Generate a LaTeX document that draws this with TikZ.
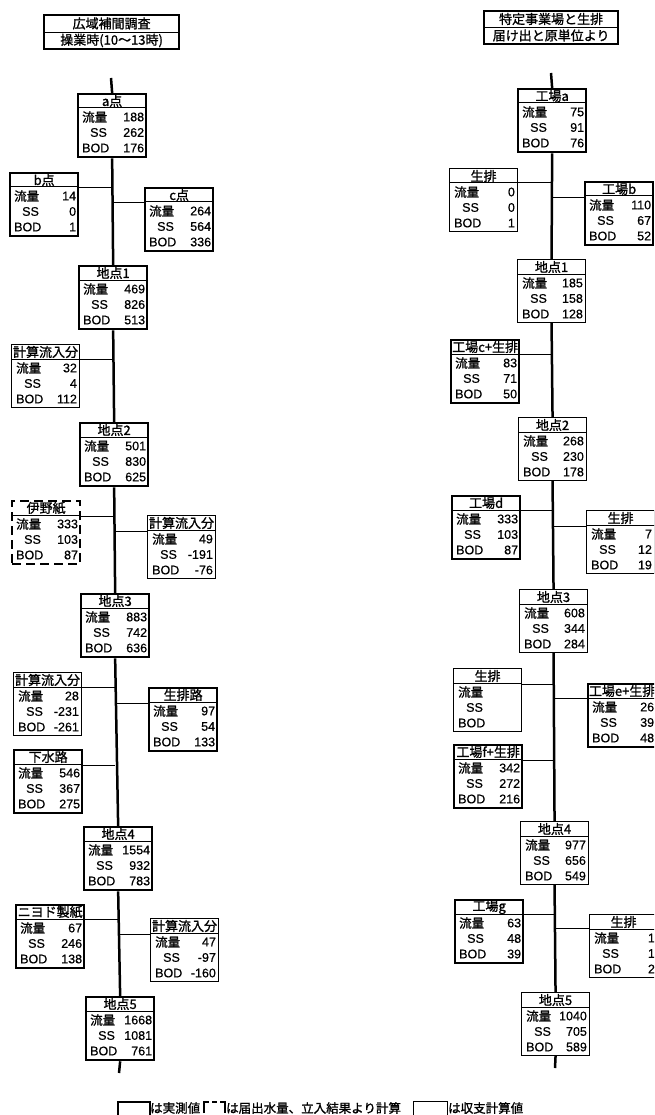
\documentclass[tikz,border=0pt]{standalone}
\usepackage{fontspec}
\setmainfont{Liberation Sans}[FakeBold=0.6]
\newfontfamily\jp{Noto Sans CJK JP}[FakeBold=1.2]
\tikzset{
  bx/.style={draw, inner sep=0pt, minimum width=68pt, minimum height=63pt},
  bxm/.style={bx, line width=2.3pt},
  bxc/.style={bx, line width=1.1pt},
  bxd/.style={bx, line width=2.2pt, dash pattern=on 9pt off 5pt},
  trunk/.style={line width=2.5pt},
  branch/.style={line width=1pt},
  divl/.style={line width=1pt},
  hdr/.style={inner sep=0pt, font=\fontsize{13}{13}\selectfont\jp},
  lab/.style={inner sep=0pt, font=\fontsize{12.5}{13}\selectfont},
  ttl/.style={inner sep=0pt, font=\fontsize{13}{13}\selectfont\jp},
  titlebx/.style={draw, inner sep=0pt, line width=2.2pt},
  lgt/.style={inner sep=0pt, font=\fontsize{12.5}{13}\selectfont\jp},
}
\newcommand{\databox}[8]{%
  \node[#2, anchor=north west] (#1) at (#3,#4) {};
  \draw[divl] ([yshift=-15pt]#1.north west) -- ([yshift=-15pt]#1.north east);
  \node[hdr] (#1h) at ([yshift=-8pt]#1.north) {#5};
  \node[lab, anchor=west] (#1a) at ([xshift=5pt,yshift=-24pt]#1.north west) {\jp 流量};
  \node[lab, anchor=west] (#1b) at ([xshift=13pt,yshift=-39.5pt]#1.north west) {SS};
  \node[lab, anchor=west] (#1c) at ([xshift=5pt,yshift=-55pt]#1.north west) {BOD};
  \node[lab, anchor=east] (#1x) at ([xshift=-3pt,yshift=-24pt]#1.north east) {#6};
  \node[lab, anchor=east] (#1y) at ([xshift=-3pt,yshift=-39.5pt]#1.north east) {#7};
  \node[lab, anchor=east] (#1z) at ([xshift=-3pt,yshift=-55pt]#1.north east) {#8};
}
\begin{document}
\begin{tikzpicture}[x=1pt,y=-1pt]
\useasboundingbox (0,0) rectangle (654,1115);
\clip (0,0) rectangle (654,1115);

% ---------- titles ----------
\node[titlebx, minimum width=135pt, minimum height=34pt, anchor=north west] (tl) at (43,14) {};
\draw[divl] (tl.west |- 0,33) -- (tl.east |- 0,33);
\node[ttl] (tl1) at (tl.north |- 0,23.5) {広域補間調査};
\node[ttl] (tl2) at (tl.north |- 0,40.5) {操業時(10～13時)};

\node[titlebx, minimum width=134pt, minimum height=33pt, anchor=north west] (tr) at (483,10) {};
\draw[divl] (tr.west |- 0,28) -- (tr.east |- 0,28);
\node[ttl] (tr1) at (tr.north |- 0,19) {特定事業場と生排};
\node[ttl] (tr2) at (tr.north |- 0,35.5) {届け出と原単位より};

% ---------- left column ----------
\databox{a}{bxm}{77}{93}{a点}{188}{262}{176}
\databox{b}{bxm}{9}{172}{b点}{14}{0}{1}
\databox{c}{bxm}{144}{187}{c点}{264}{564}{336}
\databox{pa}{bxm}{78}{265}{地点1}{469}{826}{513}
\databox{ka}{bxc}{11}{344}{計算流入分}{32}{4}{112}
\databox{pb}{bxm}{79}{422}{地点2}{501}{830}{625}
\databox{ino}{bxd}{11}{500}{伊野紙}{333}{103}{87}
\databox{kb}{bxc}{147}{515}{計算流入分}{49}{-191}{-76}
\databox{pc}{bxm}{80}{593}{地点3}{883}{742}{636}
\databox{kc}{bxc}{13}{672}{計算流入分}{28}{-231}{-261}
\databox{sr}{bxm}{148}{687}{生排路}{97}{54}{133}
\databox{gs}{bxm}{13}{749}{下水路}{546}{367}{275}
\databox{pd}{bxm}{83}{826}{地点4}{1554}{932}{783}
\databox{ny}{bxm}{15}{904}{ニヨド製紙}{67}{246}{138}
\databox{kd}{bxc}{150}{918}{計算流入分}{47}{-97}{-160}
\databox{pe}{bxm}{85}{996}{地点5}{1668}{1081}{761}

\coordinate (Ltop) at (111,78);
\coordinate (Lbot) at (119,1073);
\draw[trunk] (Ltop) -- (a.north);
\draw[trunk] (a.south) -- (pa.north);
\draw[trunk] (pa.south) -- (pb.north);
\draw[trunk] (pb.south) -- (pc.north);
\draw[trunk] (pc.south) -- (pd.north);
\draw[trunk] (pd.south) -- (pe.north);
\draw[trunk] (pe.south) -- (Lbot);

\coordinate (jb) at (a.south |- 0,188);
\coordinate (jc) at (a.south |- 0,203);
\coordinate (jka) at (pa.south |- 0,359);
\coordinate (jino) at (pb.south |- 0,516);
\coordinate (jkb) at (pb.south |- 0,531);
\coordinate (jkc) at (pc.south |- 0,687);
\coordinate (jsr) at (pc.south |- 0,703);
\coordinate (jgs) at (pc.south |- 0,765);
\coordinate (jny) at (pd.south |- 0,919);
\coordinate (jkd) at (pd.south |- 0,934);
\draw[branch] (b.east |- jb) -- (jb);
\draw[branch] (jc) -- (c.west |- jc);
\draw[branch] (ka.east |- jka) -- (jka);
\draw[branch] (ino.east |- jino) -- (jino);
\draw[branch] (jkb) -- (kb.west |- jkb);
\draw[branch] (kc.east |- jkc) -- (jkc);
\draw[branch] (jsr) -- (sr.west |- jsr);
\draw[branch] (gs.east |- jgs) -- (jgs);
\draw[branch] (ny.east |- jny) -- (jny);
\draw[branch] (jkd) -- (kd.west |- jkd);

% ---------- right column ----------
\databox{fa}{bxm}{517}{88}{工場a}{75}{91}{76}
\databox{sa}{bxc}{449}{168}{生排}{0}{0}{1}
\databox{fb}{bxm}{584}{181}{工場b}{110}{67}{52}
\databox{qa}{bxc}{517}{259}{地点1}{185}{158}{128}
\databox{fc}{bxm}{450}{339}{工場c+生排}{83}{71}{50}
\databox{qb}{bxc}{518}{417}{地点2}{268}{230}{178}
\databox{fd}{bxm}{451}{495}{工場d}{333}{103}{87}
\databox{sb}{bxc}{586}{510}{生排}{7}{12}{19}
\databox{qc}{bxc}{519}{589}{地点3}{608}{344}{284}
\databox{sc}{bxc}{453}{668}{生排}{}{}{}
\databox{fe}{bxm}{587}{683}{工場e+生排}{26}{39}{48}
\databox{ff}{bxm}{453}{744}{工場f+生排}{342}{272}{216}
\databox{qd}{bxc}{520}{821}{地点4}{977}{656}{549}
\databox{fg}{bxm}{454}{899}{工場g}{63}{48}{39}
\databox{sd}{bxc}{589}{914}{生排}{1}{1}{2}
\databox{qe}{bxc}{521}{992}{地点5}{1040}{705}{589}

\coordinate (Rtop) at (551,73);
\coordinate (Rbot) at (555,1068);
\draw[trunk] (Rtop) -- (fa.north);
\draw[trunk] (fa.south) -- (qa.north);
\draw[trunk] (qa.south) -- (qb.north);
\draw[trunk] (qb.south) -- (qc.north);
\draw[trunk] (qc.south) -- (qd.north);
\draw[trunk] (qd.south) -- (qe.north);
\draw[trunk] (qe.south) -- (Rbot);

\coordinate (jsa) at (fa.south |- 0,183);
\coordinate (jfb) at (fa.south |- 0,198);
\coordinate (jfc) at (qa.south |- 0,354);
\coordinate (jfd) at (qb.south |- 0,510);
\coordinate (jsb) at (qb.south |- 0,526);
\coordinate (jsc) at (qc.south |- 0,684);
\coordinate (jfe) at (qc.south |- 0,698);
\coordinate (jff) at (qc.south |- 0,760);
\coordinate (jfg) at (qd.south |- 0,914);
\coordinate (jsd) at (qd.south |- 0,928);
\draw[branch] (sa.east |- jsa) -- (jsa);
\draw[branch] (jfb) -- (fb.west |- jfb);
\draw[branch] (fc.east |- jfc) -- (jfc);
\draw[branch] (fd.east |- jfd) -- (jfd);
\draw[branch] (jsb) -- (sb.west |- jsb);
\draw[branch] (sc.east |- jsc) -- (jsc);
\draw[branch] (jfe) -- (fe.west |- jfe);
\draw[branch] (ff.east |- jff) -- (jff);
\draw[branch] (fg.east |- jfg) -- (jfg);
\draw[branch] (jsd) -- (sd.west |- jsd);

% ---------- legend ----------
\node[draw, line width=2.3pt, inner sep=0pt, minimum width=32pt, minimum height=34pt, anchor=north west] (lg1) at (117,1101) {};
\node[lgt, anchor=west] (lg1t) at (150,1108) {は実測値};
\draw[line width=2.2pt] (204,1113) -- (204,1102) -- (209,1102);
\draw[line width=2.2pt] (212,1102) -- (217,1102);
\draw[line width=2.2pt] (220,1102) -- (225,1102) -- (225,1113);
\node[lgt, anchor=west] (lg2t) at (226,1108) {は届出水量、立入結果より計算};
\node[draw, line width=1.1pt, inner sep=0pt, minimum width=34pt, minimum height=34pt, anchor=north west] (lg3) at (413,1101) {};
\node[lgt, anchor=west] (lg3t) at (448,1108) {は収支計算値};
\end{tikzpicture}
\end{document}
